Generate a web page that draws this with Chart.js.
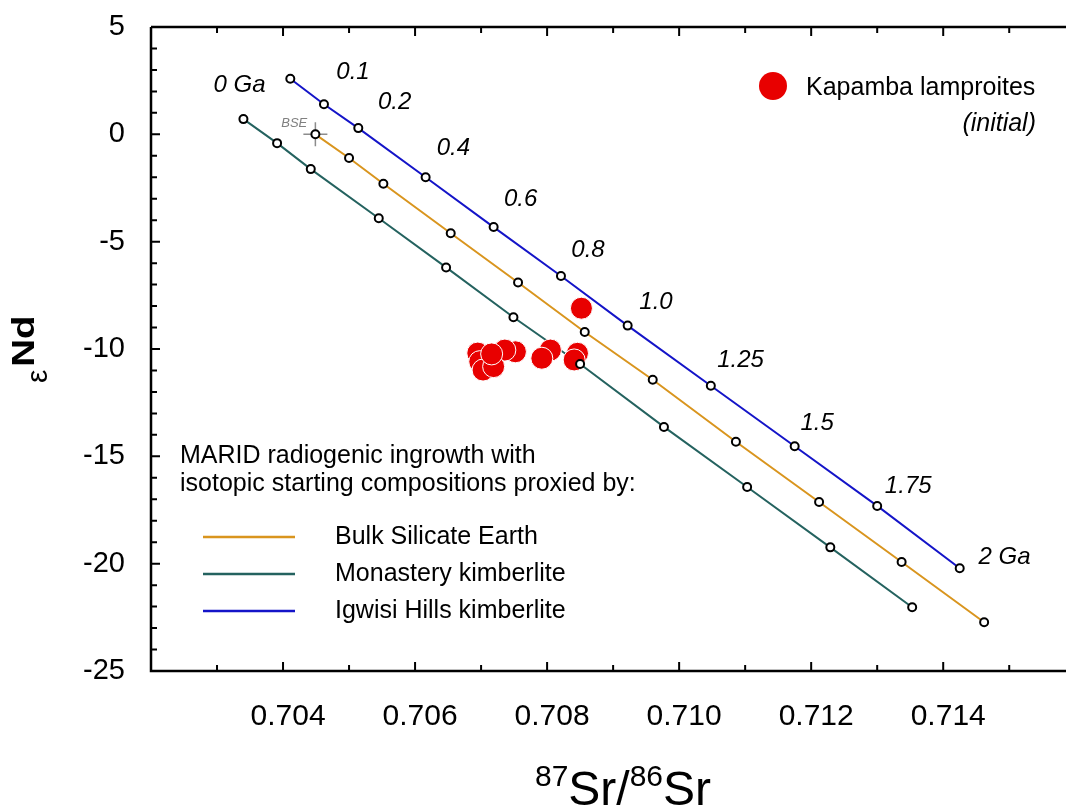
<!DOCTYPE html>
<html>
<head>
<meta charset="utf-8">
<script src="https://cdn.jsdelivr.net/npm/chart.js@4.4.0/dist/chart.umd.min.js"></script>
<style>
  html, body { margin: 0; padding: 0; background: #fff; overflow: hidden; }
  #wrap { width: 1066px; height: 809px; }
</style>
</head>
<body>
<div id="wrap"><canvas id="srNdChart" width="1066" height="809"></canvas></div>
<script>
// model ages (Ga) along each ingrowth curve
const ages = [0, 0.1, 0.2, 0.4, 0.6, 0.8, 1.0, 1.25, 1.5, 1.75, 2.0];

// Bulk Silicate Earth starting composition
const bseSr = [0.70449, 0.70500, 0.70552, 0.70654, 0.70756, 0.70857, 0.70960, 0.71086, 0.71212, 0.71337, 0.71462];
const bseNd = [0.00, -1.10, -2.30, -4.61, -6.90, -9.21, -11.43, -14.32, -17.13, -19.92, -22.73];

// Monastery kimberlite starting composition
const monSr = [0.70340, 0.70391, 0.70442, 0.70545, 0.70647, 0.70749, 0.70850, 0.70977, 0.71103, 0.71229, 0.71353];
const monNd = [0.71, -0.41, -1.62, -3.91, -6.20, -8.52, -10.70, -13.63, -16.43, -19.24, -22.03];

// Igwisi Hills kimberlite starting composition
const igwSr = [0.70411, 0.70462, 0.70514, 0.70616, 0.70719, 0.70821, 0.70922, 0.71048, 0.71175, 0.71300, 0.71425];
const igwNd = [2.59, 1.40, 0.29, -2.00, -4.32, -6.60, -8.91, -11.71, -14.53, -17.31, -20.21];

// Kapamba lamproites (initial)
const kapSr = [0.70852, 0.70846, 0.70841, 0.70805, 0.70792, 0.70752, 0.70736, 0.70695, 0.70698, 0.70703, 0.70719, 0.70716];
const kapNd = [-8.10, -10.20, -10.51, -10.05, -10.43, -10.13, -10.05, -10.19, -10.59, -10.98, -10.82, -10.23];

// BSE reference point
const bsePoint = { x: 0.70449, y: 0 };

// axis tick labels
const xTickValues = [0.704, 0.706, 0.708, 0.710, 0.712, 0.714];
const yTickValues = [-25, -20, -15, -10, -5, 0, 5];

// age annotations next to the Igwisi curve (text, Sr, eNd)
const ageLabels = [
  ['0 Ga', 0.70334, 2.30], ['0.1', 0.70506, 2.88], ['0.2', 0.70569, 1.48],
  ['0.4', 0.70658, -0.64], ['0.6', 0.70760, -3.01], ['0.8', 0.70862, -5.39],
  ['1.0', 0.70965, -7.81], ['1.25', 0.71093, -10.51], ['1.5', 0.71209, -13.47],
  ['1.75', 0.71347, -16.38], ['2 Ga', 0.71493, -19.69]
];

const FONT = '"Liberation Sans", Arial, Helvetica, sans-serif';
const RED = '#e80000';
const curves = [
  { label: 'Bulk Silicate Earth', sr: bseSr, nd: bseNd, color: '#d9951e' },
  { label: 'Monastery kimberlite', sr: monSr, nd: monNd, color: '#24625f' },
  { label: 'Igwisi Hills kimberlite', sr: igwSr, nd: igwNd, color: '#1414c8' }
];

const toXY = (xs, ys) => xs.map((v, i) => ({ x: v, y: ys[i] }));

const datasets = [];
curves.forEach(c => {
  datasets.push({
    label: c.label,
    data: toXY(c.sr, c.nd),
    showLine: true,
    borderColor: c.color,
    borderWidth: 2,
    pointRadius: 0,
    order: 5
  });
});
datasets.push({
  label: 'BSE',
  data: [bsePoint],
  pointStyle: 'cross',
  pointRadius: 12,
  borderColor: '#8c8c8c',
  borderWidth: 1.5,
  order: 4
});
datasets.push({
  label: 'Kapamba lamproites',
  data: toXY(kapSr, kapNd),
  pointRadius: 11,
  backgroundColor: RED,
  borderColor: '#ffffff',
  borderWidth: 1,
  order: 3
});
curves.forEach(c => {
  datasets.push({
    label: c.label + ' ages',
    data: toXY(c.sr, c.nd),
    pointRadius: 4,
    backgroundColor: '#ffffff',
    borderColor: '#000000',
    borderWidth: 2,
    order: 1
  });
});

const noPad = scale => {
  scale.paddingTop = 0;
  scale.paddingBottom = 0;
  scale.paddingLeft = 0;
  scale.paddingRight = 0;
};

const frame = {
  id: 'frame',
  afterDatasetsDraw(chart) {
    const { ctx, chartArea: a, scales: { x, y } } = chart;
    ctx.save();
    ctx.strokeStyle = '#000';
    ctx.lineWidth = 2.5;
    ctx.beginPath();
    ctx.moveTo(a.left, a.top);
    ctx.lineTo(a.right, a.top);
    ctx.moveTo(a.left, a.top);
    ctx.lineTo(a.left, a.bottom);
    ctx.lineTo(a.right, a.bottom);
    ctx.stroke();

    ctx.lineWidth = 2;
    ctx.beginPath();
    for (let i = 1; i <= 14; i++) {
      const px = x.getPixelForValue(0.702 + i * 0.001);
      if (px > a.right) break;
      const len = i % 2 === 0 ? 9 : 6;
      ctx.moveTo(px, a.bottom);
      ctx.lineTo(px, a.bottom - len);
      ctx.moveTo(px, a.top);
      ctx.lineTo(px, a.top + len);
    }
    for (let v = -24; v <= 4; v++) {
      const py = y.getPixelForValue(v);
      const len = v % 5 === 0 ? 9 : 6;
      ctx.moveTo(a.left, py);
      ctx.lineTo(a.left + len, py);
    }
    ctx.stroke();
    ctx.restore();
  },
  afterDraw(chart) {
    const { ctx, scales: { x, y } } = chart;
    ctx.save();
    ctx.fillStyle = '#000';

    // age labels
    ctx.font = 'italic 24px ' + FONT;
    ctx.textAlign = 'center';
    ctx.textBaseline = 'middle';
    ageLabels.forEach(([t, sx, ny]) => {
      ctx.fillText(t, x.getPixelForValue(sx), y.getPixelForValue(ny));
    });

    // BSE label
    ctx.fillStyle = '#808080';
    ctx.font = 'italic 13px ' + FONT;
    ctx.fillText('BSE', x.getPixelForValue(0.70417), y.getPixelForValue(0.51));

    // Kapamba legend
    ctx.fillStyle = RED;
    ctx.beginPath();
    ctx.arc(773, 86, 14, 0, Math.PI * 2);
    ctx.fill();
    ctx.fillStyle = '#000';
    ctx.font = '25px ' + FONT;
    ctx.textAlign = 'left';
    ctx.fillText('Kapamba lamproites', 806, 88);
    ctx.font = 'italic 25px ' + FONT;
    ctx.textAlign = 'right';
    ctx.fillText('(initial)', 1036, 124);

    // curve legend
    ctx.textAlign = 'left';
    ctx.font = '25px ' + FONT;
    ctx.fillText('MARID radiogenic ingrowth with', 180, 456);
    ctx.fillText('isotopic starting compositions proxied by:', 180, 484);
    curves.forEach((c, i) => {
      const ly = 537 + i * 37;
      ctx.strokeStyle = c.color;
      ctx.lineWidth = 2.5;
      ctx.beginPath();
      ctx.moveTo(203, ly);
      ctx.lineTo(295, ly);
      ctx.stroke();
      ctx.fillText(c.label, 335, ly);
    });

    // x axis title 87Sr/86Sr
    ctx.textBaseline = 'alphabetic';
    const big = '48px ' + FONT, sup = '30px ' + FONT;
    const parts = [['87', sup, -19], ['Sr/', big, 0], ['86', sup, -19], ['Sr', big, 0]];
    let total = 0;
    parts.forEach(p => { ctx.font = p[1]; total += ctx.measureText(p[0]).width; });
    let cx = 623 - total / 2;
    parts.forEach(p => {
      ctx.font = p[1];
      ctx.fillText(p[0], cx, 805 + p[2]);
      cx += ctx.measureText(p[0]).width;
    });

    // y axis title eNd
    ctx.translate(34, 383);
    ctx.rotate(-Math.PI / 2);
    ctx.font = '30px ' + FONT;
    ctx.fillText('\u03b5', 0, 13);
    const ew = ctx.measureText('\u03b5').width;
    ctx.translate(ew + 3, 0);
    ctx.scale(1.2, 1);
    ctx.font = 'bold 32px ' + FONT;
    ctx.fillText('Nd', 0, 0);
    ctx.restore();
  }
};

new Chart(document.getElementById('srNdChart').getContext('2d'), {
  type: 'scatter',
  data: { datasets: datasets },
  options: {
    responsive: false,
    animation: false,
    layout: { autoPadding: false, padding: { top: 27, right: 0, left: 0, bottom: 0 } },
    plugins: {
      legend: { display: false },
      tooltip: { enabled: false }
    },
    scales: {
      x: {
        type: 'linear',
        min: 0.702,
        max: 0.71586,
        afterBuildTicks(scale) { scale.ticks = xTickValues.map(v => ({ value: v })); },
        afterFit(scale) { scale.height = 138; noPad(scale); },
        grid: { display: false, drawTicks: false },
        border: { display: false },
        ticks: {
          autoSkip: false,
          maxRotation: 0,
          padding: 28,
          labelOffset: 5,
          color: '#000',
          font: { family: FONT, size: 30 },
          callback: v => v.toFixed(3)
        }
      },
      y: {
        type: 'linear',
        min: -25,
        max: 5,
        afterBuildTicks(scale) { scale.ticks = yTickValues.map(v => ({ value: v })); },
        afterFit(scale) { scale.width = 151; noPad(scale); },
        grid: { display: false, drawTicks: false },
        border: { display: false },
        ticks: {
          padding: 26,
          color: '#000',
          font: { family: FONT, size: 29 }
        }
      }
    }
  },
  plugins: [frame]
});
</script>
</body>
</html>
